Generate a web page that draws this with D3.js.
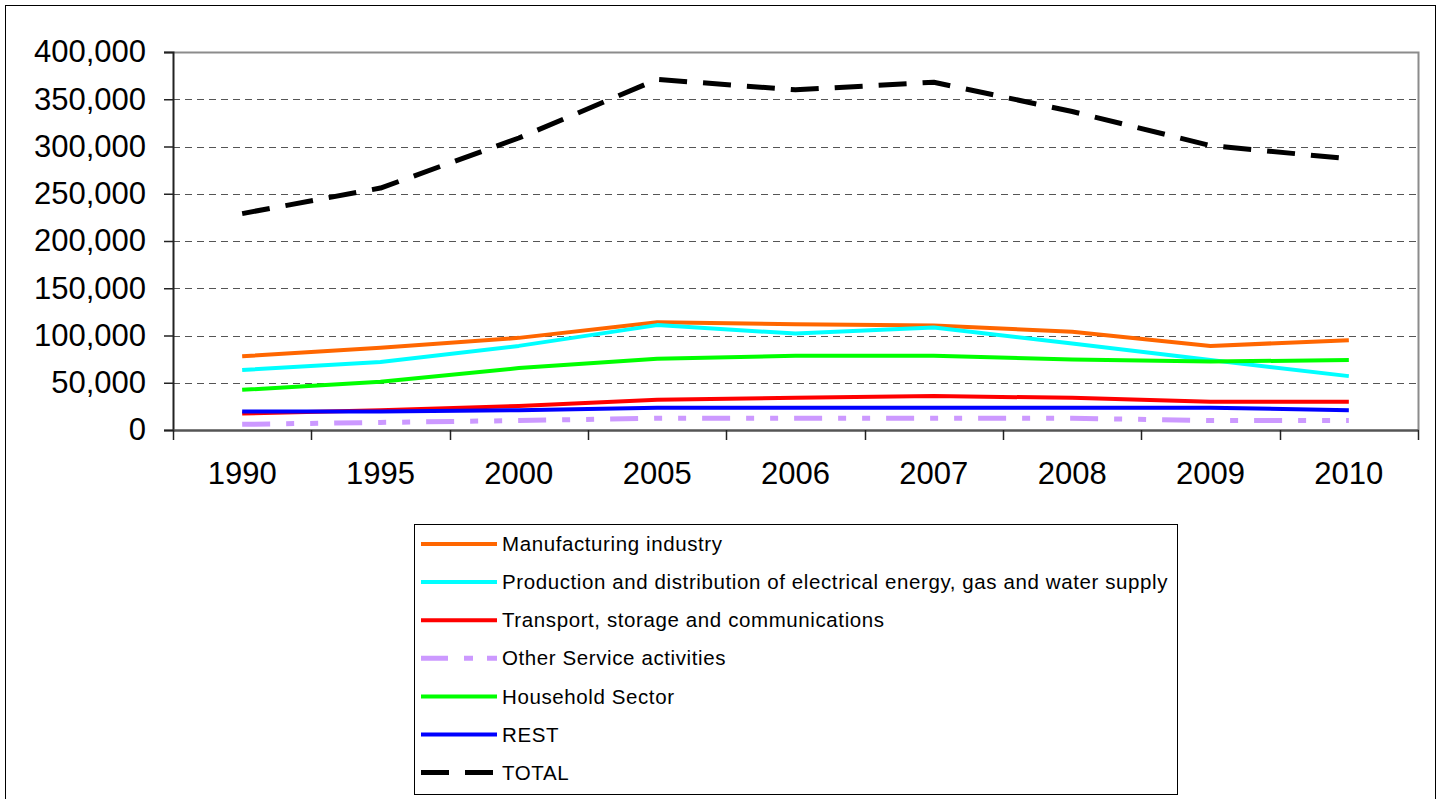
<!DOCTYPE html>
<html>
<head>
<meta charset="utf-8">
<script src="https://cdn.jsdelivr.net/npm/d3@7/dist/d3.min.js"></script>
<style>
  html, body { margin: 0; padding: 0; background: #fff; }
  svg { display: block; font-family: "Liberation Sans", Arial, sans-serif; }
</style>
</head>
<body>
<svg id="chart" width="1439" height="799"></svg>
<script>
// Years on the category axis
const years = ["1990", "1995", "2000", "2005", "2006", "2007", "2008", "2009", "2010"];

// Emissions by sector
const manufacturing = [78000, 87000, 97500, 114000, 112000, 110500, 104000, 89000, 95000];
const energySupply  = [63500, 72000, 89000, 111000, 102000, 108500, 91500, 74000, 57000];
const transport     = [17500, 21000, 25500, 32000, 34000, 36000, 34000, 30000, 30000];
const otherServices = [6000, 8000, 10000, 12500, 12500, 12500, 12500, 10000, 10000];
const household     = [42500, 51000, 65500, 75500, 78500, 78500, 74500, 72500, 74000];
const rest          = [19500, 19500, 21000, 23500, 23500, 23500, 23500, 23500, 21000];
const total         = [229000, 256000, 309000, 371000, 360000, 368000, 337000, 301000, 287000];

const yTicks = [0, 50000, 100000, 150000, 200000, 250000, 300000, 350000, 400000];

const series = [
  { name: "Manufacturing industry", values: manufacturing, color: "#FF6600", width: 4, dash: null },
  { name: "Production and distribution of electrical energy, gas and water supply", values: energySupply, color: "#00FFFF", width: 4, dash: null },
  { name: "Transport, storage and communications", values: transport, color: "#FF0000", width: 4, dash: null },
  { name: "Other Service activities", values: otherServices, color: "#CC99FF", width: 5, dash: "28,16,8,16,8,16" },
  { name: "Household Sector", values: household, color: "#00FF00", width: 4, dash: null },
  { name: "REST", values: rest, color: "#0000FF", width: 4, dash: null },
  { name: "TOTAL", values: total, color: "#000000", width: 5, dash: "28,16" }
];

const svg = d3.select("#chart");

// Outer chart frame
svg.append("rect")
  .attr("x", 5.5).attr("y", 5.5)
  .attr("width", 1430).attr("height", 820)
  .attr("fill", "#fff").attr("stroke", "#000").attr("stroke-width", 1);

const plot = { left: 173, right: 1418, top: 52, bottom: 430 };

const x = d3.scaleBand().domain(years).range([plot.left, plot.right]).padding(0);
const y = d3.scaleLinear().domain([0, 400000]).range([plot.bottom, plot.top]);

// Plot area border (top / right)
svg.append("path")
  .attr("d", `M${plot.left},${plot.top + 0.5}H${plot.right + 0.5}V${plot.bottom}`)
  .attr("fill", "none").attr("stroke", "#8c8c8c").attr("stroke-width", 2);

// Dashed horizontal gridlines
svg.append("g")
  .selectAll("line")
  .data(yTicks.filter(t => t > 0 && t < 400000))
  .join("line")
  .attr("x1", plot.left).attr("x2", plot.right)
  .attr("y1", d => Math.round(y(d)) + 0.5).attr("y2", d => Math.round(y(d)) + 0.5)
  .attr("stroke", "#555").attr("stroke-width", 1)
  .attr("stroke-dasharray", "7,5");

// Y axis
const yAxis = svg.append("g")
  .attr("transform", `translate(${plot.left},0)`)
  .call(d3.axisLeft(y).tickValues(yTicks).tickSize(9).tickPadding(18)
    .tickFormat(d3.format(",")));
yAxis.select(".domain").attr("stroke", "#222").attr("stroke-width", 2);
yAxis.selectAll(".tick line").attr("stroke", "#222").attr("stroke-width", 1.5);
yAxis.selectAll(".tick text")
  .attr("font-size", 31).attr("fill", "#000")
  .attr("font-family", "'Liberation Sans', Arial, sans-serif");

// X axis with ticks at category boundaries
const xAxis = svg.append("g")
  .attr("transform", `translate(0,${plot.bottom})`)
  .call(d3.axisBottom(x).tickSize(0).tickPadding(32));
xAxis.select(".domain").attr("stroke", "#555").attr("stroke-width", 2.5);
xAxis.selectAll(".tick text")
  .attr("font-size", 31).attr("fill", "#000")
  .attr("font-family", "'Liberation Sans', Arial, sans-serif");
const boundaries = years.map(d => x(d)).concat([x(years[years.length - 1]) + x.bandwidth()]);
svg.append("g")
  .selectAll("line")
  .data(boundaries)
  .join("line")
  .attr("x1", d => Math.round(d) + 0.5).attr("x2", d => Math.round(d) + 0.5)
  .attr("y1", plot.bottom).attr("y2", plot.bottom + 10)
  .attr("stroke", "#222").attr("stroke-width", 1.5);

// Series lines
const line = d3.line()
  .x((d, i) => x(years[i]) + x.bandwidth() / 2)
  .y(d => y(d));

svg.append("g")
  .selectAll("path")
  .data(series)
  .join("path")
  .attr("d", d => line(d.values))
  .attr("fill", "none")
  .attr("stroke", d => d.color)
  .attr("stroke-width", d => d.width)
  .attr("stroke-linejoin", "round")
  .attr("stroke-dasharray", d => d.dash);

// Legend
const legend = svg.append("g");
legend.append("rect")
  .attr("x", 414.5).attr("y", 524.5)
  .attr("width", 763).attr("height", 270)
  .attr("fill", "#fff").attr("stroke", "#000").attr("stroke-width", 1);

const rows = legend.selectAll("g.row")
  .data(series)
  .join("g")
  .attr("class", "row")
  .attr("transform", (d, i) => `translate(0,${544 + i * 38.1})`);

rows.append("line")
  .attr("x1", 421).attr("x2", 497)
  .attr("y1", 0).attr("y2", 0)
  .attr("stroke", d => d.color)
  .attr("stroke-width", d => d.width)
  .attr("stroke-dasharray", d => d.dash ? (d.name === "TOTAL" ? "28,16" : "27,16,9,14,10,14") : null);

rows.append("text")
  .attr("x", 502).attr("y", 0).attr("dy", "0.35em")
  .attr("font-size", 20.5).attr("fill", "#000")
  .attr("letter-spacing", 0.6)
  .text(d => d.name);
</script>
</body>
</html>
